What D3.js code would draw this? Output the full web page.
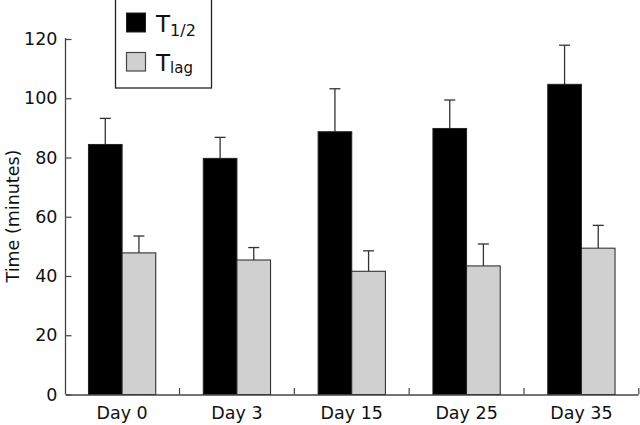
<!DOCTYPE html>
<html><head><meta charset="utf-8">
<script src="https://cdn.jsdelivr.net/npm/d3@7"></script>
<style>body{margin:0;background:#fff}</style>
</head><body>
<svg id="c" width="640" height="425"></svg>
<script>
const days = ["Day 0","Day 3","Day 15","Day 25","Day 35"];
const seriesNames = ["T1/2","Tlag"];
const tHalf = [84.4, 79.7, 88.7, 89.8, 104.7];
const tHalfErr = [8.8, 7.1, 14.5, 9.6, 13.2];
const tLag = [47.8, 45.4, 41.6, 43.4, 49.4];
const tLagErr = [5.7, 4.2, 6.9, 7.4, 7.7];
const yTicks = [0,20,40,60,80,100,120];
const colors = ["#000000","#d0d0d0"];

const svg = d3.select("#c");
const font = "'DejaVu Sans', sans-serif";
const fs = 17.5;
const y = d3.scaleLinear().domain([0,120]).range([394.5,39]);
const x0 = d3.scaleBand().domain(days).range([65.5,638]).paddingInner(0.414).paddingOuter(0.2);
const x1 = d3.scaleBand().domain(seriesNames).range([0,x0.bandwidth()]);

const series = [
  {name:"T1/2", vals:tHalf, errs:tHalfErr, color:colors[0]},
  {name:"Tlag", vals:tLag, errs:tLagErr, color:colors[1]}
];
series.forEach(s=>{
  const g = svg.append("g");
  days.forEach((d,i)=>{
    const bx = x0(d)+x1(s.name);
    const w = x1.bandwidth();
    const cx = bx + w/2;
    g.append("line").attr("x1",cx).attr("x2",cx)
      .attr("y1",y(s.vals[i])).attr("y2",y(s.vals[i]+s.errs[i]))
      .attr("stroke","#333").attr("stroke-width",1.3);
    g.append("line").attr("x1",cx-5.5).attr("x2",cx+5.5)
      .attr("y1",y(s.vals[i]+s.errs[i])).attr("y2",y(s.vals[i]+s.errs[i]))
      .attr("stroke","#333").attr("stroke-width",1.3);
    g.append("rect").attr("x",bx).attr("y",y(s.vals[i]))
      .attr("width",w).attr("height",y(0)-y(s.vals[i]))
      .attr("fill",s.color).attr("stroke","#222").attr("stroke-width",1);
  });
});

// y axis
const yAx = svg.append("g").attr("transform","translate(65.5,0)")
  .call(d3.axisLeft(y).tickValues(yTicks).tickSizeInner(-6).tickSizeOuter(0).tickPadding(8));
yAx.select(".domain").attr("stroke","#444").attr("stroke-width",1.3).attr("d","M0,"+y(0)+"V"+(y(120)-1));
yAx.selectAll(".tick line").attr("stroke","#444").attr("stroke-width",1.2);
yAx.selectAll("text").attr("font-family",font).attr("font-size",fs).attr("fill","#111");

// x axis
const xAx = svg.append("g").attr("transform","translate(0,394.5)")
  .call(d3.axisBottom(x0).tickSize(0).tickPadding(12));
xAx.select(".domain").attr("stroke","#444").attr("stroke-width",1.3);
xAx.selectAll("text").attr("font-family",font).attr("font-size",fs).attr("fill","#111");
const step = x0.step();
days.forEach((d,i)=>{
  const bx = x0(d) + x0.bandwidth() + (step - x0.bandwidth())/2;
  svg.append("line").attr("x1",bx).attr("x2",bx).attr("y1",394.5).attr("y2",388)
    .attr("stroke","#444").attr("stroke-width",1.2);
});

// y label
svg.append("text").attr("transform","translate(18.5,216) rotate(-90)")
  .attr("text-anchor","middle").attr("font-family",font).attr("font-size",fs).attr("fill","#111")
  .text("Time (minutes)");

// legend
const lg = svg.append("g");
lg.append("rect").attr("x",115.5).attr("y",-1).attr("width",96).attr("height",89)
  .attr("fill","#fff").attr("stroke","#222").attr("stroke-width",1.3);
lg.append("rect").attr("x",126.5).attr("y",13).attr("width",19).attr("height",19)
  .attr("fill",colors[0]).attr("stroke","#222");
lg.append("rect").attr("x",126.5).attr("y",52.5).attr("width",19).attr("height",18.5)
  .attr("fill",colors[1]).attr("stroke","#444").attr("stroke-width",1.2);
const t1 = lg.append("text").attr("x",156).attr("y",31.7).attr("font-family",font).attr("fill","#111");
t1.append("tspan").attr("font-size",23).text("T");
t1.append("tspan").attr("font-size",16).attr("dy",4.3).attr("dx",0).text("1/2");
const t2 = lg.append("text").attr("x",156).attr("y",71).attr("font-family",font).attr("fill","#111");
t2.append("tspan").attr("font-size",23).text("T");
t2.append("tspan").attr("font-size",15).attr("dy",1.7).attr("dx",0).text("lag");
</script>
</body></html>
